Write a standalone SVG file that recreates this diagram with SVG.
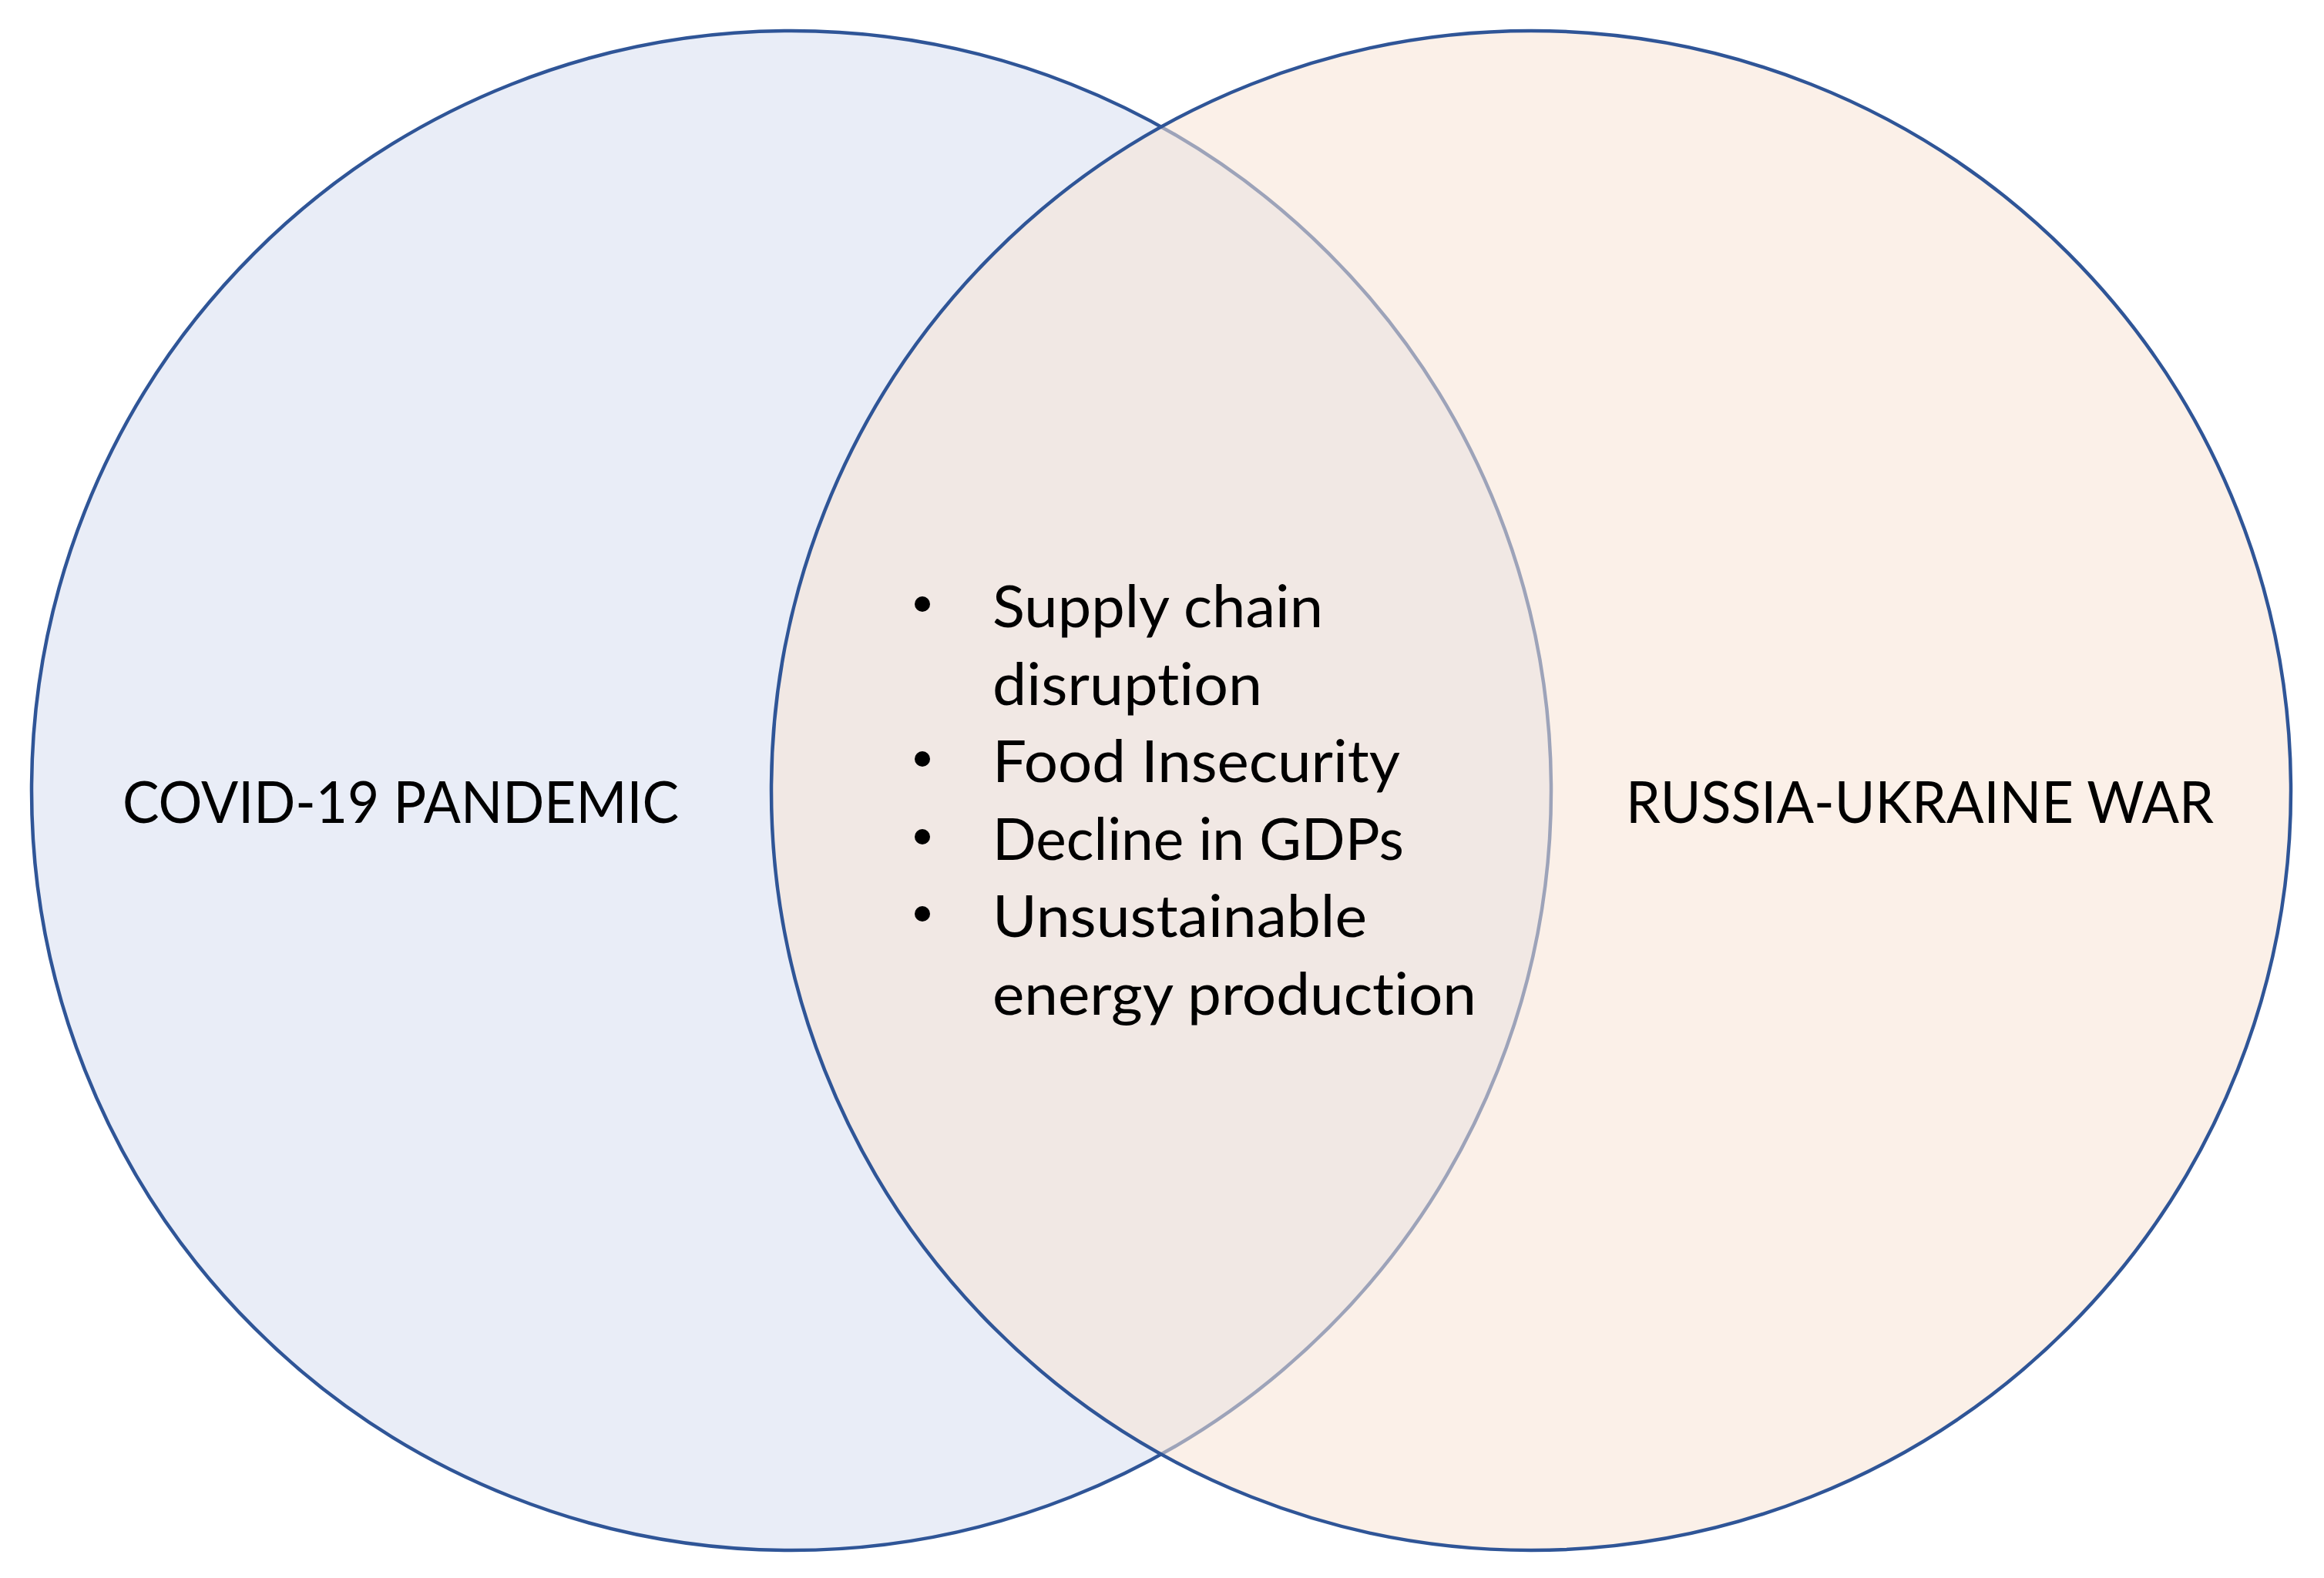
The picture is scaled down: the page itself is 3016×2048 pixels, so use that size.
<svg xmlns="http://www.w3.org/2000/svg" width="3016" height="2048" viewBox="0 0 3016 2048">
  <style>
    .ring { stroke: #2F5597; stroke-width: 4.5; }
    .lbl { font-family: Lato, "Liberation Sans", sans-serif; font-size: 75px; fill: #000000; font-variant-ligatures: none; font-feature-settings: "liga" 0, "dlig" 0; }
    .dot { fill: #000000; }
  </style>
  <rect x="0" y="0" width="3016" height="2048" fill="#FFFFFF"/>
  <g id="covid-19-pandemic">
    <circle class="ring" cx="1027" cy="1026" r="986" fill="#E9EDF7"/>
    <text class="lbl" x="159" y="1068" textLength="722" lengthAdjust="spacingAndGlyphs">COVID-19 PANDEMIC</text>
  </g>
  <g id="russia-ukraine-war">
    <circle cx="1987" cy="1026" r="986" fill="#F8E4D5" fill-opacity="0.55"/>
    <circle class="ring" cx="1987" cy="1026" r="986" fill="none"/>
    <text class="lbl" x="2110" y="1068" textLength="763" lengthAdjust="spacingAndGlyphs">RUSSIA-UKRAINE WAR</text>
  </g>
  <g id="overlap-shared-impacts">
    <circle class="dot" cx="1197" cy="784" r="10"/>
    <text class="lbl" x="1288" y="814" textLength="429" lengthAdjust="spacingAndGlyphs">Supply chain</text>
    <text class="lbl" x="1288" y="915" textLength="350" lengthAdjust="spacingAndGlyphs">disruption</text>
    <circle class="dot" cx="1197" cy="985" r="10"/>
    <text class="lbl" x="1288" y="1015" textLength="529" lengthAdjust="spacingAndGlyphs">Food Insecurity</text>
    <circle class="dot" cx="1197" cy="1086" r="10"/>
    <text class="lbl" x="1288" y="1116" textLength="534" lengthAdjust="spacingAndGlyphs">Decline in GDPs</text>
    <circle class="dot" cx="1197" cy="1186" r="10"/>
    <text class="lbl" x="1288" y="1216" textLength="486" lengthAdjust="spacingAndGlyphs">Unsustainable</text>
    <text class="lbl" x="1288" y="1317" textLength="628" lengthAdjust="spacingAndGlyphs">energy production</text>
  </g>
  <g id="connectors"/>
</svg>
